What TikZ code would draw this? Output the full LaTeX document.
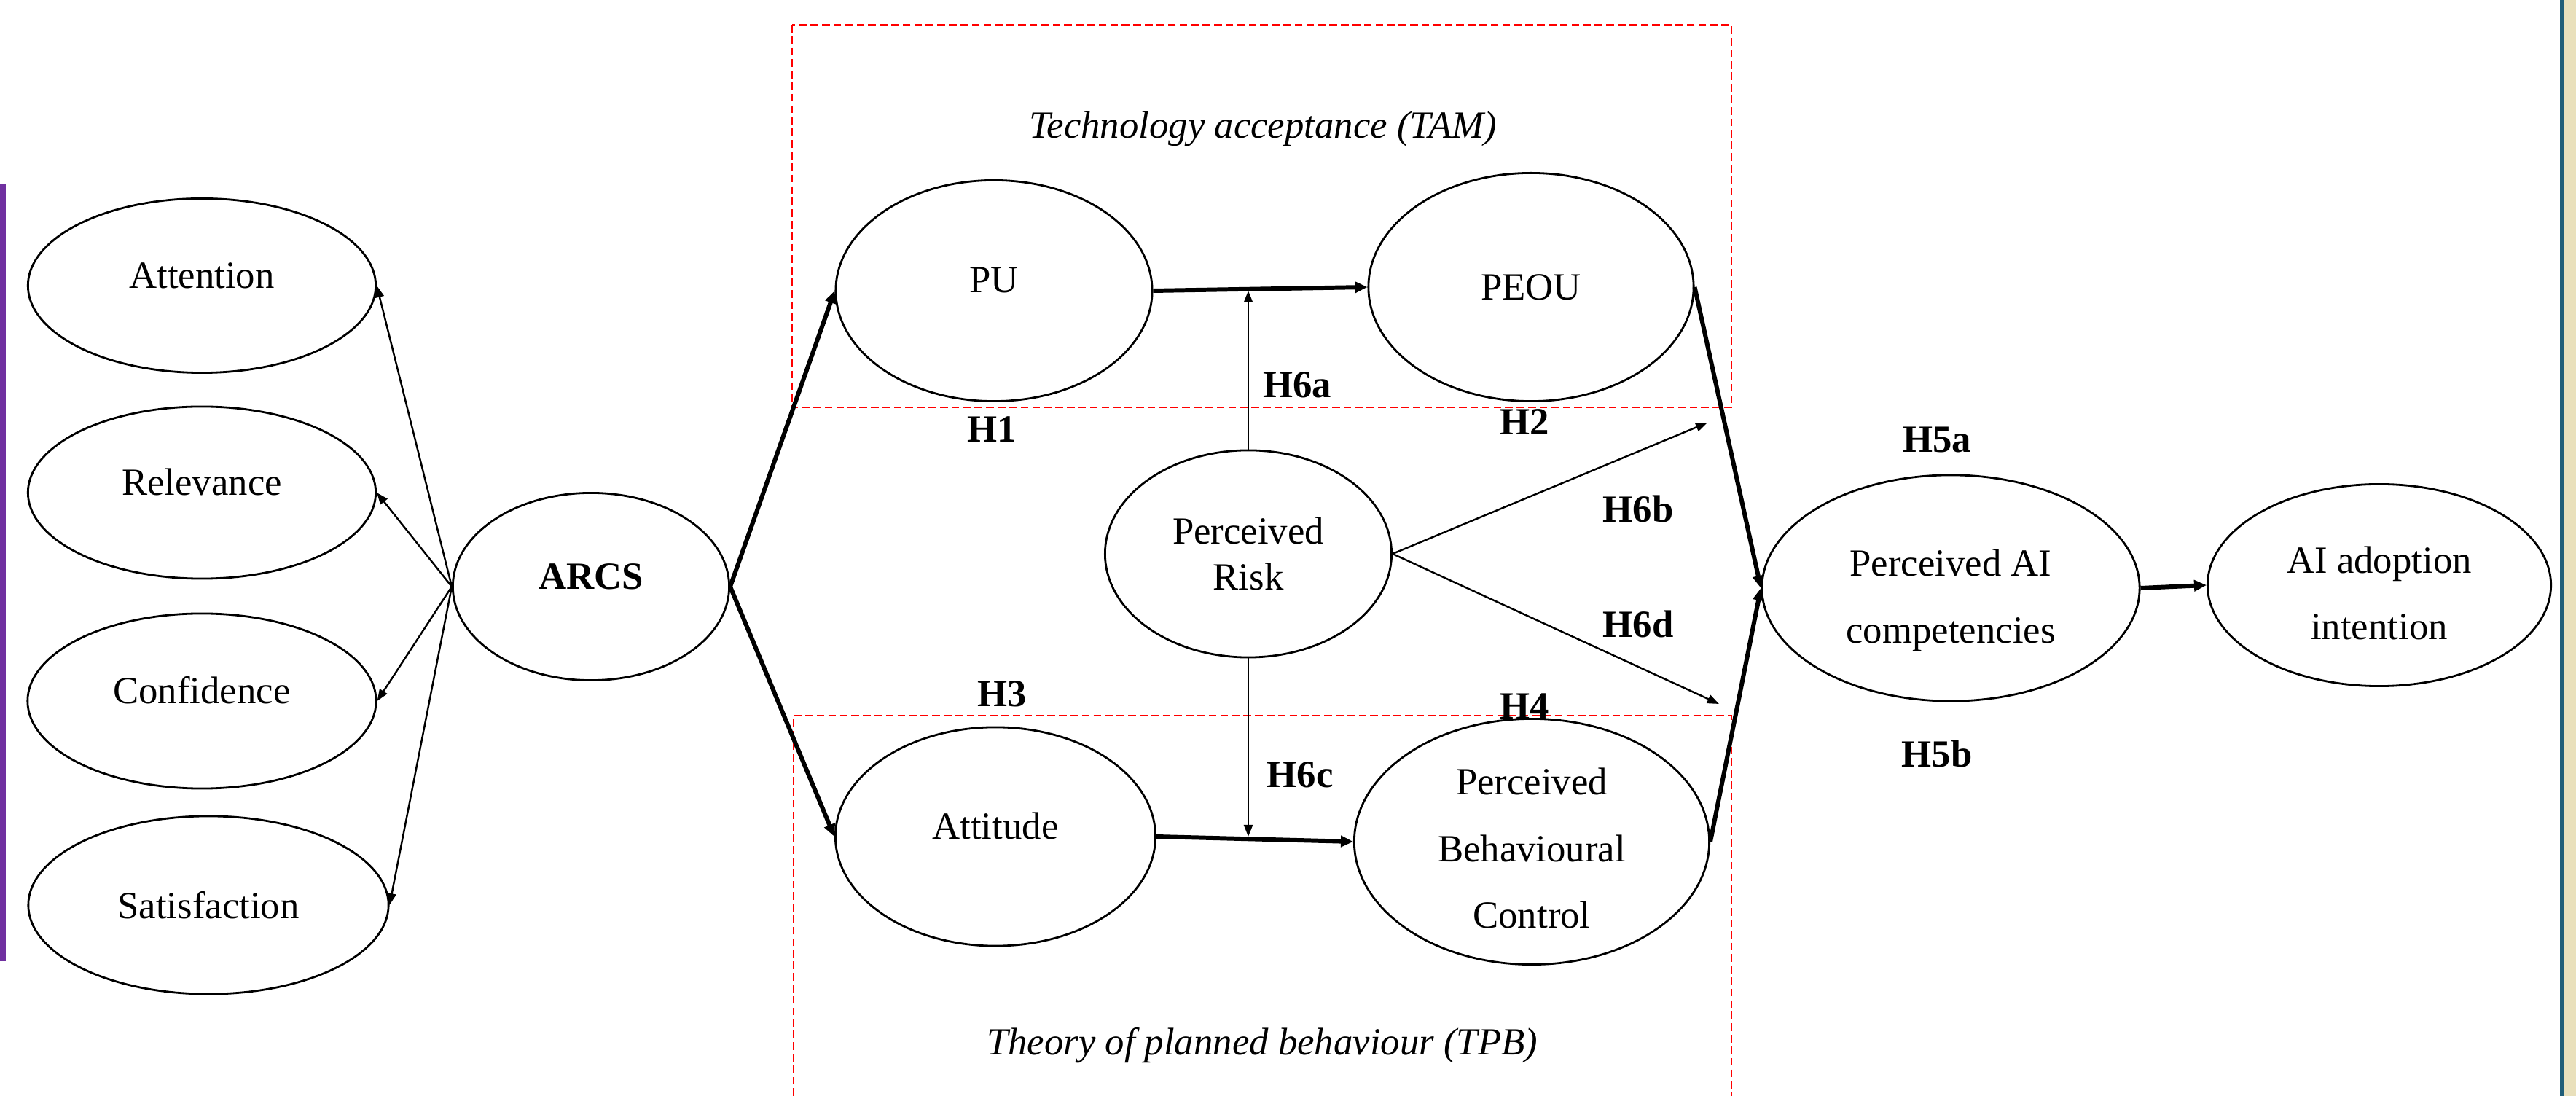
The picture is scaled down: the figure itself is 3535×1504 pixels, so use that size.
\documentclass[tikz,border=0pt]{standalone}
\usepackage{fontspec}
\setmainfont{Liberation Serif}
\usepackage{xcolor}
\usepackage{tikz}
\usetikzlibrary{arrows.meta,shapes.geometric,positioning}
\definecolor{framec}{HTML}{FF0000}
\definecolor{barl}{HTML}{7030A0}
\definecolor{barr}{HTML}{215E78}
\definecolor{sandc}{HTML}{E9E0BC}
% struts that move the text inside an ellipse
\newcommand{\txtup}[1]{\rule[-#1]{0pt}{0pt}}
\newcommand{\txtdown}[1]{\rule{0pt}{#1}}
\tikzset{
  lat/.style={ellipse,draw,line width=0.8pt,inner sep=0pt,align=center,font=\fontsize{15}{26}\selectfont},
  ar/.style={-{Triangle[length=1.6mm,width=1.2mm]},line width=0.7pt},
  arw/.style={-{Triangle[length=1.7mm,width=1.5mm]},line width=1.7pt},
  hyp/.style={font=\fontsize{15}{18}\selectfont\bfseries,anchor=base,inner sep=0pt},
  frame/.style={draw=framec,line width=0.5pt,dash pattern=on 3pt off 1.5pt},
  ttl/.style={font=\fontsize{15}{18}\selectfont\itshape,anchor=base,inner sep=0pt}
}

\begin{document}
\begin{tikzpicture}[x=0.01cm,y=-0.01cm]
\useasboundingbox (0,0) rectangle (3535,1504);
% slide edges
\fill[barl] (0,253) rectangle (8,1319);
\fill[barr] (3513,0) rectangle (3519,1504);
\fill[sandc] (3519,0) rectangle (3535,1504);
% model frames
\draw[frame] (1087,34) rectangle (2376,559);
\draw[frame] (1089,1504) -- (1089,982) -- (2376,982) -- (2376,1504);
\node[ttl] (tam) at (1733,190) {Technology acceptance (TAM)};
\node[ttl] (tpb) at (1732,1447) {Theory of planned behaviour (TPB)};
% constructs
\node[lat,minimum width=4.77cm,minimum height=2.39cm] (att) at (277,392) {\txtup{0.27cm}Attention};
\node[lat,minimum width=4.77cm,minimum height=2.36cm] (rel) at (277,676) {\txtup{0.3cm}Relevance};
\node[lat,minimum width=4.78cm,minimum height=2.40cm] (con) at (277,962) {\txtup{0.3cm}Confidence};
\node[lat,minimum width=4.94cm,minimum height=2.44cm] (sat) at (286,1242) {Satisfaction};
\node[lat,minimum width=3.79cm,minimum height=2.57cm,font=\fontsize{15}{26}\selectfont\bfseries] (arcs) at (811,805) {\txtup{0.27cm}ARCS};
\node[lat,minimum width=4.34cm,minimum height=3.03cm] (pu) at (1364,399) {\txtup{0.3cm}PU};
\node[lat,minimum width=4.46cm,minimum height=3.13cm] (peou) at (2101,394) {PEOU};
\node[lat,minimum width=3.93cm,minimum height=2.84cm,font=\fontsize{15}{18}\selectfont] (risk) at (1713,760) {Perceived\\Risk};
\node[lat,minimum width=4.39cm,minimum height=3.00cm] (atd) at (1366,1148) {\txtup{0.3cm}Attitude};
\node[lat,minimum width=4.87cm,minimum height=3.34cm] (pbc) at (2102,1155) {\txtdown{0.55cm}Perceived\\Behavioural\\Control};
\node[lat,minimum width=5.18cm,minimum height=3.10cm] (pac) at (2677,807) {\txtdown{0.7cm}Perceived AI\\competencies};
\node[lat,minimum width=4.71cm,minimum height=2.77cm] (aia) at (3265,803) {\txtdown{0.58cm}AI adoption\\intention};
% free ends
\coordinate (h6aend) at (risk.north |- pu.east);
\coordinate (h6cend) at (risk.south |- atd.east);
\coordinate (h6bend) at (2343,580);
\coordinate (h6dend) at (2359,966);
% ARCS dimensions
\foreach \t in {att,rel,con,sat}
  \draw[ar] (arcs.west) -- (\t.east);
% paths
\draw[arw] (arcs.east) -- (pu.west);
\draw[arw] (arcs.east) -- (atd.west);
\draw[arw] (pu.east) -- (peou.west);
\draw[arw] (atd.east) -- (pbc.west);
\draw[arw] (peou.east) -- (pac.west);
\draw[arw] (pbc.east) -- (pac.west);
\draw[arw] (pac.east) -- (aia.west);
\draw[ar] (risk.north) -- (h6aend);
\draw[ar] (risk.south) -- (h6cend);
\draw[ar] (risk.east) -- (h6bend);
\draw[ar] (risk.east) -- (h6dend);
% hypotheses
\node[hyp] (h1) at (1361,607) {H1};
\node[hyp] (h2) at (2092,597) {H2};
\node[hyp] (h3) at (1375,970) {H3};
\node[hyp] (h4) at (2092,987) {H4};
\node[hyp] (h6a) at (1780,546) {H6a};
\node[hyp] (h6b) at (2248,717) {H6b};
\node[hyp] (h6d) at (2248,875) {H6d};
\node[hyp] (h6c) at (1784,1081) {H6c};
\node[hyp] (h5a) at (2658,621) {H5a};
\node[hyp] (h5b) at (2658,1053) {H5b};
\end{tikzpicture}
\end{document}
